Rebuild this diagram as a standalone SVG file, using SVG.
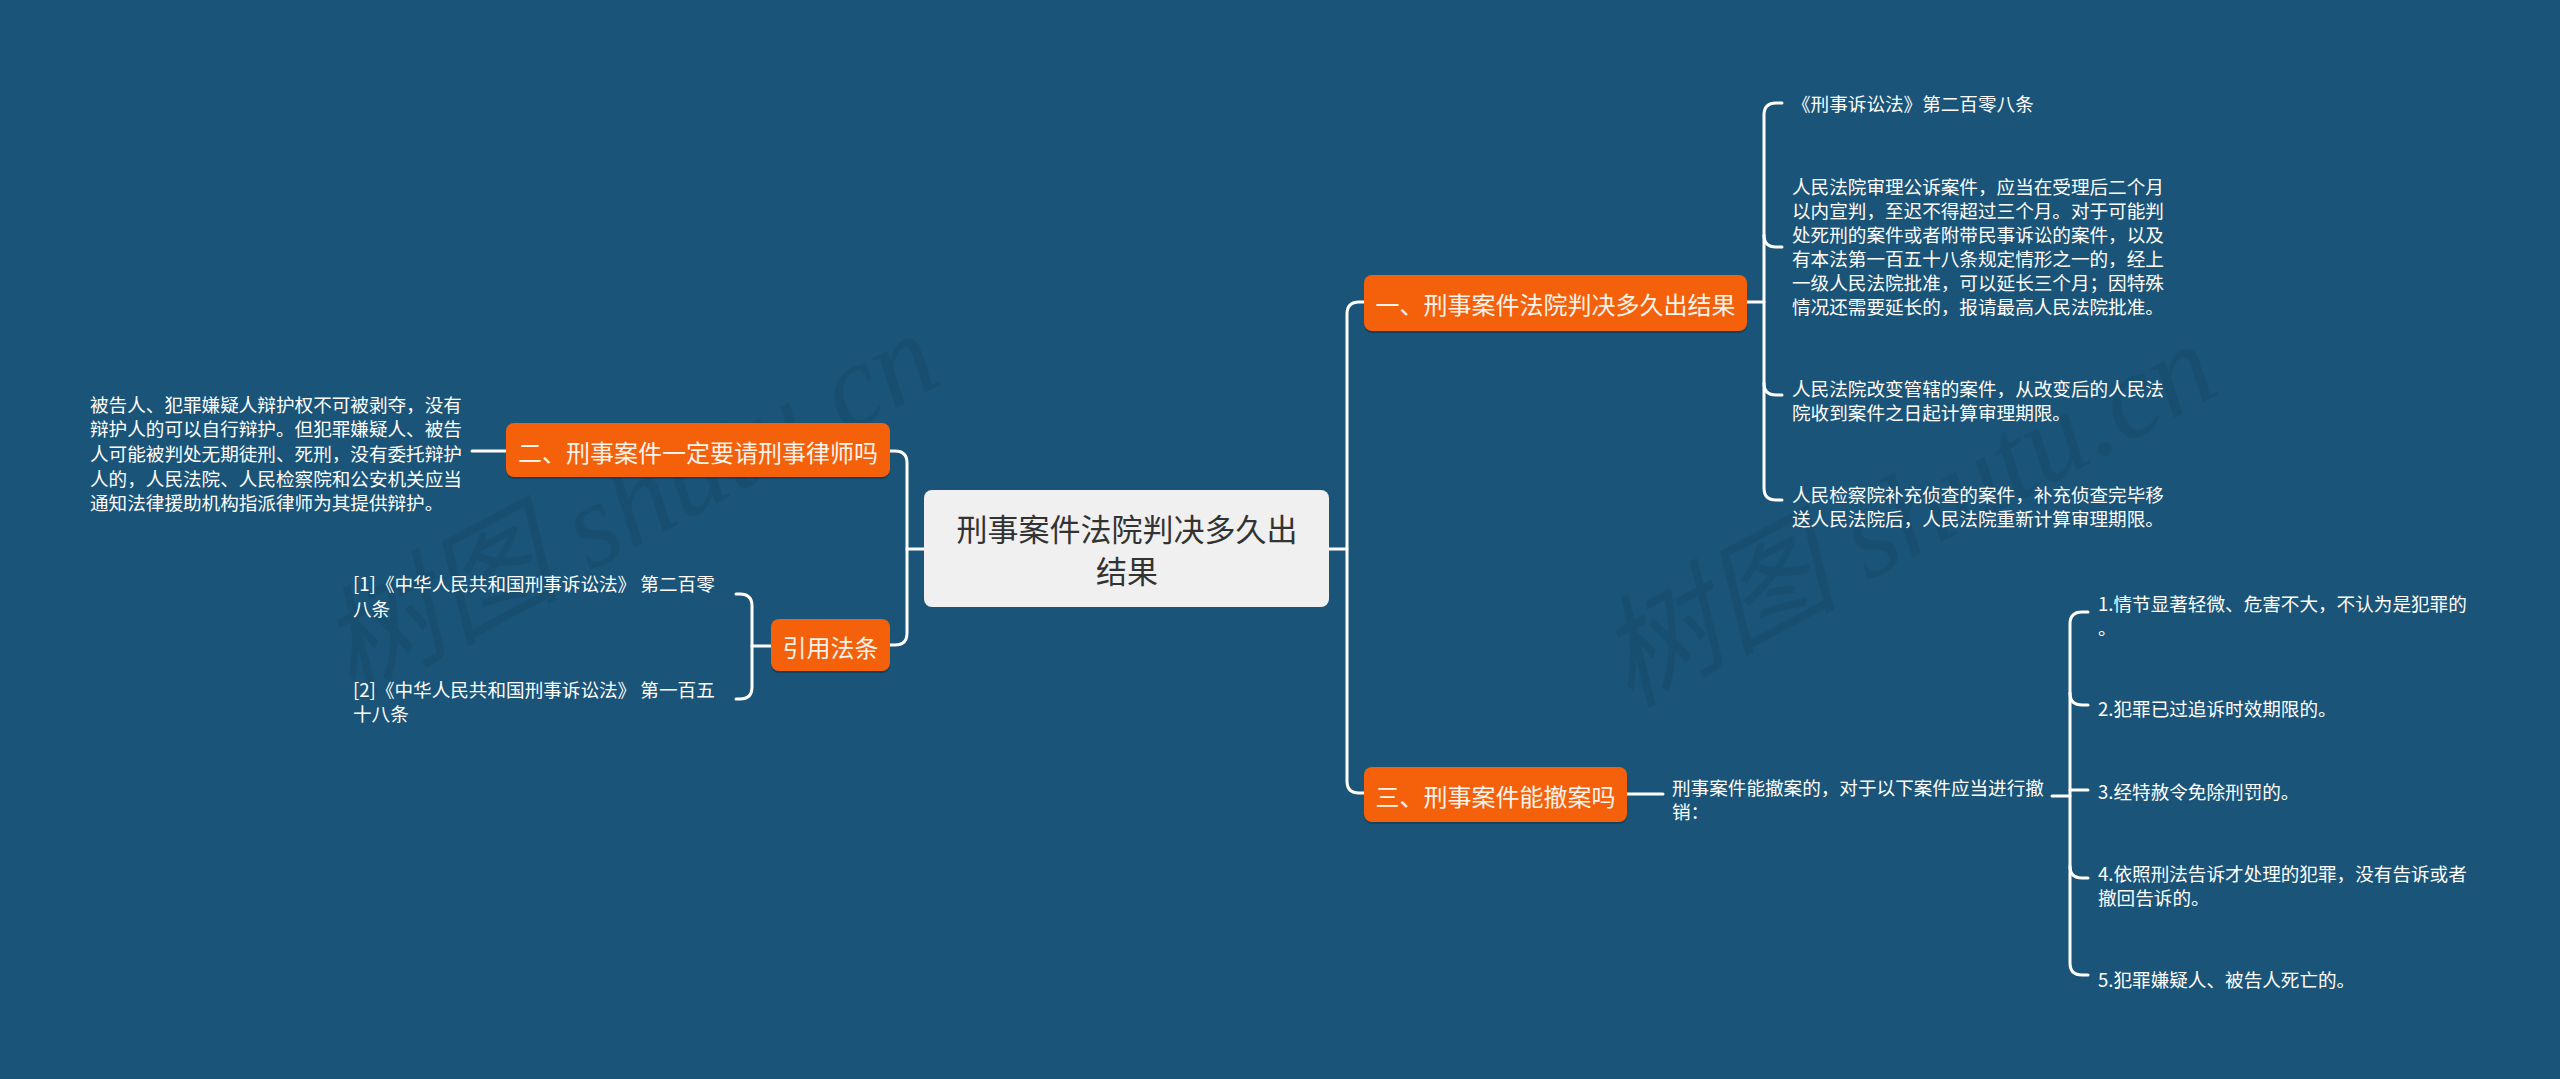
<svg xmlns="http://www.w3.org/2000/svg" width="2560" height="1079" viewBox="0 0 2560 1079">
<style>
.bg{fill:#1a5479}
.wm{font-family:"Liberation Serif","Noto Sans CJK SC",serif;font-style:italic;font-size:120px;fill:#000;fill-opacity:0.07}
.link{fill:none;stroke:#ffffff;stroke-width:3;stroke-linecap:round;stroke-linejoin:round}
.topic{fill:#f5600a}
.shadow{fill:#000;fill-opacity:0.22}
.root{fill:#f0f0f0}
.tt{font-family:"Noto Sans CJK SC","Noto Sans",sans-serif;font-size:24px;fill:#fdf3ea;dominant-baseline:central;text-anchor:middle}
.rt{font-family:"Noto Sans CJK SC","Noto Sans",sans-serif;font-size:31px;fill:#333333;dominant-baseline:central;text-anchor:middle}
.st{font-family:"Noto Sans CJK SC","Noto Sans",sans-serif;font-size:18.6px;fill:#ffffff;dominant-baseline:central}
</style>
<rect class="bg" x="0" y="0" width="2560" height="1079"/>
<g id="watermarks">
<text class="wm" x="648" y="540" text-anchor="middle" transform="rotate(-28 648 540)">树图 shutu.cn</text>
<text class="wm" x="1926" y="550" text-anchor="middle" transform="rotate(-28 1926 550)">树图 shutu.cn</text>
</g>
<g id="connectors">
<path class="link" d="M1329,549 H1347"/>
<path class="link" d="M1364,302 H1359 Q1347,302 1347,314 V781 Q1347,793 1359,793 H1364"/>
<path class="link" d="M924,549 H907"/>
<path class="link" d="M890,451 H895 Q907,451 907,463 V633 Q907,645 895,645 H890"/>
<path class="link" d="M1747,302 H1764"/>
<path class="link" d="M1782,103 H1776 Q1764,103 1764,115 V488 Q1764,500 1776,500 H1782"/>
<path class="link" d="M1764,235 Q1764,247 1776,247 H1782"/>
<path class="link" d="M1764,383 Q1764,395 1776,395 H1782"/>
<path class="link" d="M1627,794 H1663"/>
<path class="link" d="M2052,796 H2070"/>
<path class="link" d="M2088,612 H2082 Q2070,612 2070,624 V963 Q2070,975 2082,975 H2088"/>
<path class="link" d="M2070,693 Q2070,705 2082,705 H2088"/>
<path class="link" d="M2070,790 H2088"/>
<path class="link" d="M2070,866 Q2070,878 2082,878 H2088"/>
<path class="link" d="M506,451 H472"/>
<path class="link" d="M771,646 H752"/>
<path class="link" d="M736,594 H740 Q752,594 752,606 V687 Q752,699 740,699 H736"/>
</g>
<g id="root">
<rect class="root" x="924" y="490" width="405" height="117" rx="8"/>
<text class="rt" x="1127" y="527">刑事案件法院判决多久出</text>
<text class="rt" x="1127" y="569">结果</text>
</g>
<g id="topic1">
<rect class="shadow" x="1364" y="277" width="383" height="56" rx="8"/>
<rect class="topic" x="1364" y="275" width="383" height="56" rx="8"/>
<text class="tt" x="1555.5" y="303">一、刑事案件法院判决多久出结果</text>
</g>
<g id="topic1-c1">
<text class="st" x="1792" y="102">《刑事诉讼法》第二百零八条</text>
</g>
<g id="topic1-c2">
<text class="st" x="1792" y="185">人民法院审理公诉案件，应当在受理后二个月</text>
<text class="st" x="1792" y="209">以内宣判，至迟不得超过三个月。对于可能判</text>
<text class="st" x="1792" y="233">处死刑的案件或者附带民事诉讼的案件，以及</text>
<text class="st" x="1792" y="257">有本法第一百五十八条规定情形之一的，经上</text>
<text class="st" x="1792" y="281">一级人民法院批准，可以延长三个月；因特殊</text>
<text class="st" x="1792" y="305">情况还需要延长的，报请最高人民法院批准。</text>
</g>
<g id="topic1-c3">
<text class="st" x="1792" y="387">人民法院改变管辖的案件，从改变后的人民法</text>
<text class="st" x="1792" y="411">院收到案件之日起计算审理期限。</text>
</g>
<g id="topic1-c4">
<text class="st" x="1792" y="493">人民检察院补充侦查的案件，补充侦查完毕移</text>
<text class="st" x="1792" y="517">送人民法院后，人民法院重新计算审理期限。</text>
</g>
<g id="topic3">
<rect class="shadow" x="1364" y="769" width="263" height="55" rx="8"/>
<rect class="topic" x="1364" y="767" width="263" height="55" rx="8"/>
<text class="tt" x="1495.5" y="795">三、刑事案件能撤案吗</text>
</g>
<g id="topic3-c">
<text class="st" x="1672" y="786">刑事案件能撤案的，对于以下案件应当进行撤</text>
<text class="st" x="1672" y="810">销：</text>
</g>
<g id="topic3-c1">
<text class="st" x="2098" y="602">1.情节显著轻微、危害不大，不认为是犯罪的</text>
<text class="st" x="2098" y="626">。</text>
</g>
<g id="topic3-c2">
<text class="st" x="2098" y="707">2.犯罪已过追诉时效期限的。</text>
</g>
<g id="topic3-c3">
<text class="st" x="2098" y="790">3.经特赦令免除刑罚的。</text>
</g>
<g id="topic3-c4">
<text class="st" x="2098" y="872">4.依照刑法告诉才处理的犯罪，没有告诉或者</text>
<text class="st" x="2098" y="896">撤回告诉的。</text>
</g>
<g id="topic3-c5">
<text class="st" x="2098" y="978">5.犯罪嫌疑人、被告人死亡的。</text>
</g>
<g id="topic2">
<rect class="shadow" x="506" y="425" width="384" height="54" rx="8"/>
<rect class="topic" x="506" y="423" width="384" height="54" rx="8"/>
<text class="tt" x="698" y="451">二、刑事案件一定要请刑事律师吗</text>
</g>
<g id="topic2-c">
<text class="st" x="90" y="403">被告人、犯罪嫌疑人辩护权不可被剥夺，没有</text>
<text class="st" x="90" y="427">辩护人的可以自行辩护。但犯罪嫌疑人、被告</text>
<text class="st" x="90" y="452">人可能被判处无期徒刑、死刑，没有委托辩护</text>
<text class="st" x="90" y="477">人的，人民法院、人民检察院和公安机关应当</text>
<text class="st" x="90" y="501">通知法律援助机构指派律师为其提供辩护。</text>
</g>
<g id="refs">
<rect class="shadow" x="771" y="621" width="119" height="52" rx="8"/>
<rect class="topic" x="771" y="619" width="119" height="52" rx="8"/>
<text class="tt" x="830.5" y="646">引用法条</text>
</g>
<g id="refs-c1">
<text class="st" x="353" y="582">[1]《中华人民共和国刑事诉讼法》 第二百零</text>
<text class="st" x="353" y="607">八条</text>
</g>
<g id="refs-c2">
<text class="st" x="353" y="688">[2]《中华人民共和国刑事诉讼法》 第一百五</text>
<text class="st" x="353" y="712">十八条</text>
</g>
</svg>
